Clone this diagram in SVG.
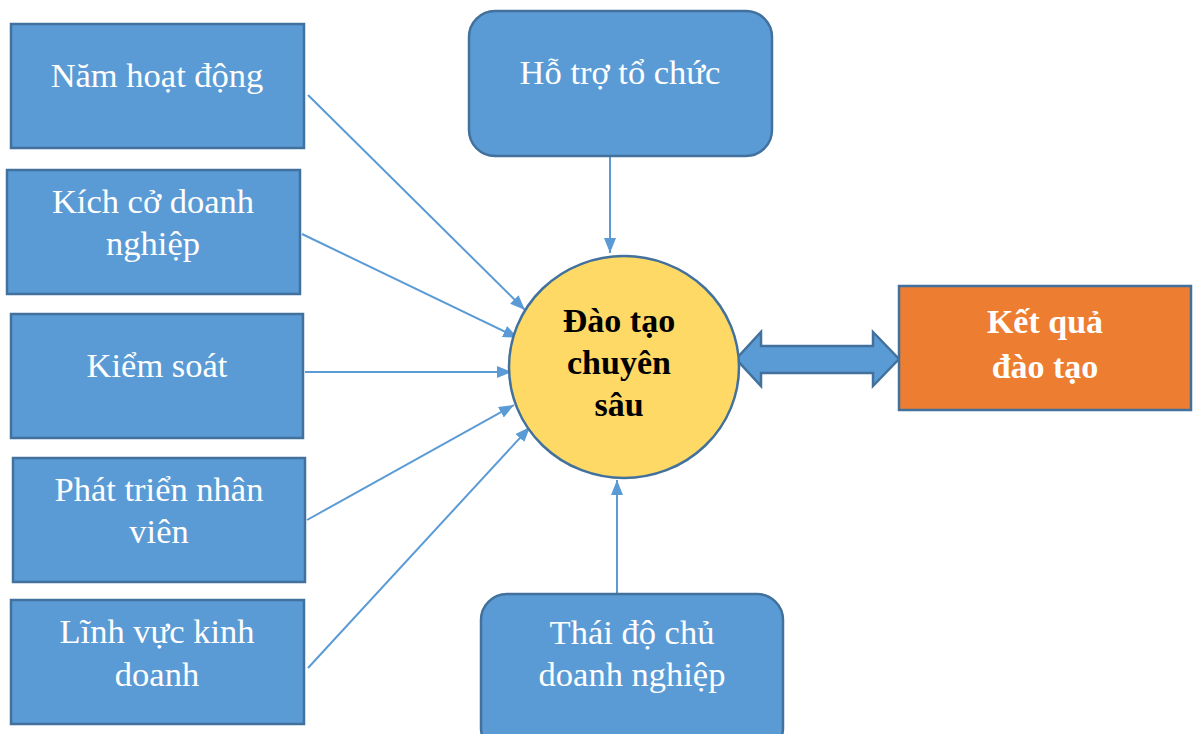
<svg xmlns="http://www.w3.org/2000/svg" width="1197" height="734" viewBox="0 0 1197 734">
<style>
.box{fill:#5B9BD5;stroke:#41719C;stroke-width:2.5}
.t{font-family:"Liberation Serif","Times New Roman",serif;font-size:34.5px;fill:#fff;text-anchor:middle}
.b{font-family:"Liberation Serif","Times New Roman",serif;font-size:34px;font-weight:bold;text-anchor:middle}
.c{stroke:#5B9BD5;stroke-width:2;fill:none;marker-end:url(#ah)}
</style>
<defs>
<marker id="ah" viewBox="0 0 20 20" refX="15" refY="6" markerWidth="20" markerHeight="20" orient="auto" markerUnits="userSpaceOnUse">
<path d="M0,0 L15,6 L0,12 z" fill="#5B9BD5"/>
</marker>
</defs>
<rect width="1197" height="734" fill="#fff"/>
<g id="connectors">
<line class="c" x1="308" y1="95" x2="525" y2="310"/>
<line class="c" x1="302" y1="234" x2="518" y2="338"/>
<line class="c" x1="305" y1="372" x2="512" y2="372"/>
<line class="c" x1="307" y1="520" x2="514" y2="405"/>
<line class="c" x1="308" y1="668" x2="530" y2="427"/>
<line class="c" x1="610" y1="157" x2="610" y2="253"/>
<line class="c" x1="617" y1="594" x2="617" y2="480"/>
<path id="dbl" d="M736,359 L761,332 L761,346 L873,346 L873,332 L899,359 L873,386 L873,373 L761,373 L761,386 Z" fill="#5B9BD5" stroke="#41719C" stroke-width="2.5" stroke-linejoin="miter"/>
</g>
<g id="n1"><rect class="box" x="11" y="24" width="293" height="124"/><text class="t" x="157" y="87">Năm hoạt động</text></g>
<g id="n2"><rect class="box" x="7" y="170" width="293" height="124"/><text class="t" x="153" y="213">Kích cở doanh</text><text class="t" x="153" y="255">nghiệp</text></g>
<g id="n3"><rect class="box" x="11" y="314" width="292" height="124"/><text class="t" x="157" y="377">Kiểm soát</text></g>
<g id="n4"><rect class="box" x="13" y="458" width="292" height="124"/><text class="t" x="159" y="501">Phát triển nhân</text><text class="t" x="159" y="543">viên</text></g>
<g id="n5"><rect class="box" x="11" y="600" width="293" height="124"/><text class="t" x="157" y="643">Lĩnh vực kinh</text><text class="t" x="157" y="686">doanh</text></g>
<g id="top"><rect class="box" x="469" y="11" width="303" height="145" rx="26"/><text class="t" x="620" y="84">Hỗ trợ tổ chức</text></g>
<g id="bottom"><rect class="box" x="481" y="594" width="302" height="160" rx="26"/><text class="t" x="632" y="644">Thái độ chủ</text><text class="t" x="632" y="686">doanh nghiệp</text></g>
<g id="center"><ellipse cx="624" cy="367" rx="115" ry="111" fill="#FFD966" stroke="#41719C" stroke-width="2.5"/><text class="b" x="619" y="332" fill="#000">Đào tạo</text><text class="b" x="619" y="374" fill="#000">chuyên</text><text class="b" x="619" y="416" fill="#000">sâu</text></g>
<g id="result"><rect x="899" y="286" width="292" height="124" fill="#ED7D31" stroke="#41719C" stroke-width="2.5"/><text class="b" x="1045" y="333" fill="#fff" font-size="37">Kết quả</text><text class="b" x="1045" y="378" fill="#fff" font-size="37">đào tạo</text></g>
</svg>
